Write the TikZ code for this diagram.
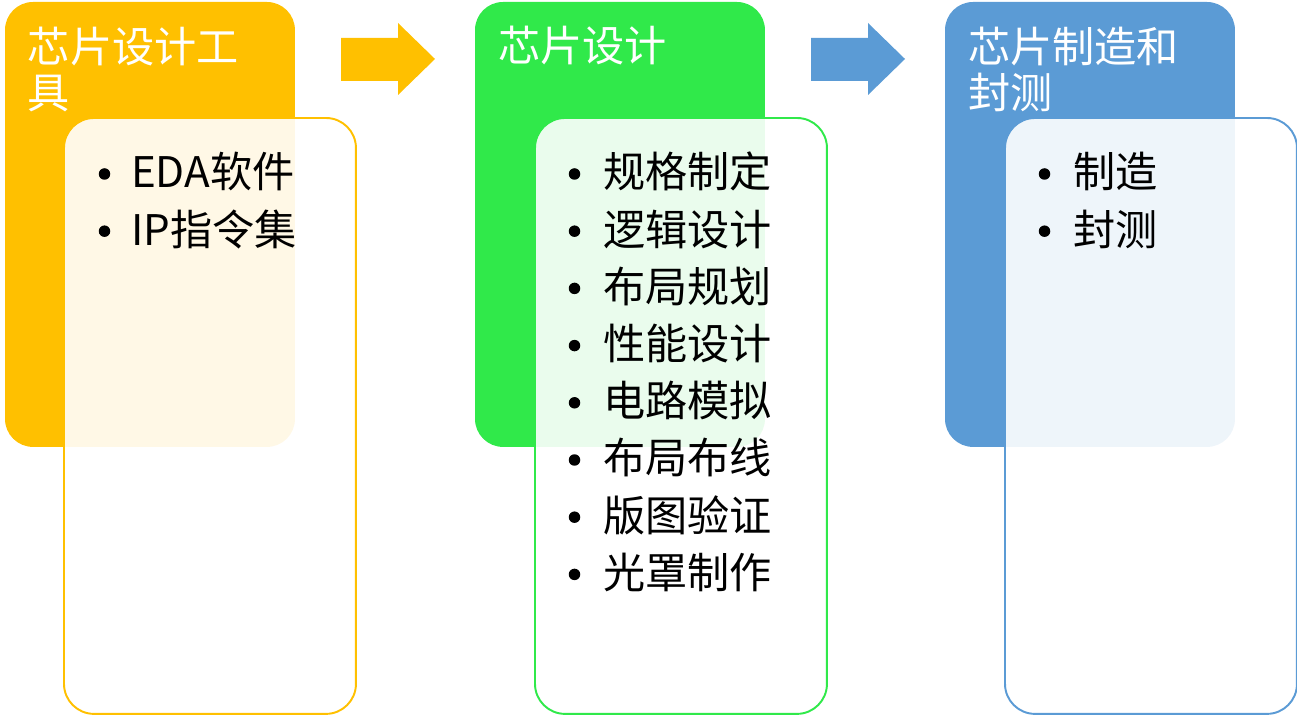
\documentclass[tikz,border=0pt]{standalone}
\usepackage{fontspec}
\setmainfont{Noto Sans CJK SC}
\definecolor{toolYellow}{HTML}{FFC000}
\definecolor{designGreen}{HTML}{30E94A}
\definecolor{fabBlue}{HTML}{5B9BD5}
\begin{document}
\begin{tikzpicture}[x=0.02cm,y=-0.02cm]
\tikzstyle{every node}+=[inner sep=0pt, outer sep=0pt]
\tikzstyle{stage}=[rectangle, rounded corners=0.56cm, minimum width=5.8cm, minimum height=8.9cm, anchor=north west]
\tikzstyle{detail}=[rectangle, rounded corners=0.6cm, minimum width=5.84cm, minimum height=11.92cm, anchor=north west, fill=white, fill opacity=0.9, line width=1.1pt]
\tikzstyle{title}=[anchor=base west, text=white, align=left, font=\fontsize{24pt}{26.7pt}\selectfont]
\tikzstyle{item}=[anchor=base west, font=\fontsize{24pt}{28pt}\selectfont]
\tikzstyle{dot}=[circle, fill=black, minimum size=0.23cm]
\useasboundingbox (0,0) rectangle (1297,715);
% stage boxes
\node [stage, fill=toolYellow] (tool) at (5,2) {};
\node [stage, fill=designGreen] (design) at (475,2) {};
\node [stage, fill=fabBlue] (fab) at (945,2) {};
\node [title] (toolTitle) at (28,109) {芯片设计工\\具};
\node [title] (designTitle) at (498,62) {芯片设计};
\node [title] (fabTitle) at (968,109) {芯片制造和\\封测};
% detail boxes
\node [detail, draw=toolYellow] (toolList) at (64,118) {};
\node [detail, draw=designGreen] (designList) at (535,118) {};
\node [detail, draw=fabBlue] (fabList) at (1005,118) {};
% arrows
\fill [toolYellow] (341,38) -- (398,38) -- (398,23) -- (435,59) -- (398,95) -- (398,81) -- (341,81) -- cycle;
\fill [fabBlue] (811,38) -- (868,38) -- (868,23) -- (905,59) -- (868,95) -- (868,81) -- (811,81) -- cycle;
% items
\foreach \txt [count=\i from 0] in {EDA软件,IP指令集} {
  \node [dot] (toolDot\i) at (104.5,{174+57.2*\i}) {};
  \node [item] (toolItem\i) at (131,{188+57.2*\i}) {\txt};
}
\foreach \txt [count=\i from 0] in {规格制定,逻辑设计,布局规划,性能设计,电路模拟,布局布线,版图验证,光罩制作} {
  \node [dot] (designDot\i) at (574.5,{174+57.2*\i}) {};
  \node [item] (designItem\i) at (603,{188+57.2*\i}) {\txt};
}
\foreach \txt [count=\i from 0] in {制造,封测} {
  \node [dot] (fabDot\i) at (1044.5,{174+57.2*\i}) {};
  \node [item] (fabItem\i) at (1073,{188+57.2*\i}) {\txt};
}
\end{tikzpicture}
\end{document}
